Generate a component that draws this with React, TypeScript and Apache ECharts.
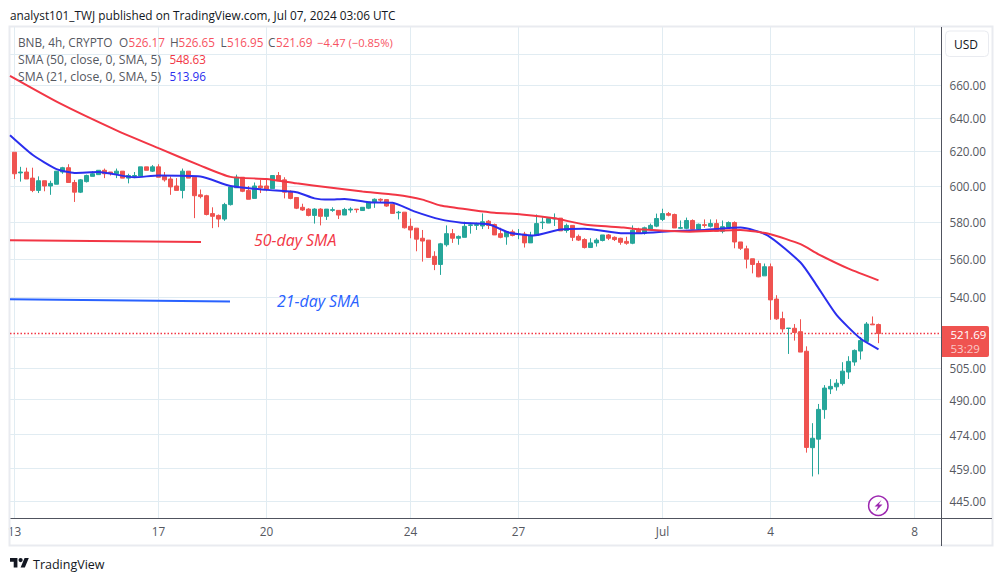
import React, { useEffect, useRef } from "react";
import * as echarts from "echarts";

// 4h candles, index 0 = 13 June 00:00
const opens = [619.5,607.5,608,604.5,597.5,603,600,601,608,610.5,602,596.5,602.5,605.5,606.5,609,608,607,608.5,604.5,605.5,605.7,611,608.5,611,605.5,604,600,597.5,608.5,605,595,594.5,584.5,583.5,581.5,589.5,599,605,597.5,593,600,600,598.5,606,603.5,597,593.5,588,587,583.5,587,583,586.3,586.3,583.7,586.5,587,586.2,587.5,591,592.5,592.3,589.7,585,585.3,577.5,576.5,571,570,561.3,557,567.5,573.5,571,571.5,578,578,577.7,580.3,578.5,573.5,571.8,574.5,573,573.3,568.5,572.5,579.5,579.3,581.5,582,575.2,578,572,570.3,566,568.5,569.8,572.8,571.5,571,569.3,568.3,575.3,573.7,575.8,577.6,581.3,584.5,584,576.4,576.4,580.7,575.9,578.4,577.5,579,574.8,577,579.6,569,565.3,560,557.5,551,555.8,539,529.1,524.2,524.3,522.6,513,468.2,472,485.4,495,496,497.5,503,507.8,513.1,517.8,526.4,526.17];
const closes = [607,608,604,597.5,603,600,601.5,608.5,610.5,602,596.5,603.5,606,607,609,607,607.5,608.5,604.5,606,606,611,609,611,605,603.5,599.5,597.5,608.5,604.5,594.5,594,584,583,581.5,589.5,599.5,605,597,592.5,600,599,598,606,603,596.5,593,587.5,586.5,583.5,587,583,587,586.7,583.7,586.8,587,586.7,588,591,592.5,592,588.7,584.6,585.3,576.7,575.5,570.5,569.5,560.7,557,568,573.5,571,572,577.5,578.3,578.5,580,578,572.8,571.5,574.5,572.5,573.3,568.5,572.5,579,579.8,581.8,582,575,578,571.5,570,566,568.5,570,572.8,571,570.3,568.8,568.3,575.3,574,576.7,578,581.8,584.5,583.6,576.6,576.8,580.7,575.9,578.6,578,579,574.8,577.3,579.6,569,565.6,559.8,557,550.5,555.8,538.6,529,524,524.4,522.2,512.6,468.3,472.4,485.5,495.4,496.2,497.7,503.4,508.1,513.4,518.2,526.4,526,521.69];
const lows = [604,602.5,604,596.5,596,597,595,601,607,602,591,596,602,605.5,606.5,604.5,606,604.5,604.5,601.5,604.5,605.7,609,608,605,602.5,595,597.5,593,604.5,582,593,583.5,576.5,577,580.5,589,599,596.5,592.5,593,596,597,598.5,603,593,592.5,587,586,583,579,578,581,585.5,581.5,583.7,585,585,586,587,587.7,590.5,588.3,584.6,581.3,576.3,571,564,558.5,560.7,554,551.5,566.5,568.5,567.5,571.5,573.5,575.5,576,576,572.8,571,567.5,572,570.5,566,568.5,572.5,576,579.3,577.7,575,574,569.5,569.5,565.5,566,566.5,569.3,570,569.5,567.5,567.5,567.8,574,573,575.3,577,580.4,583,576.6,576,575.9,575.9,574.4,576.8,576.8,574.8,573.7,577,565.6,564.7,554.9,552.3,550.3,551,528.5,528.5,522.2,511.7,518.2,512.6,466,455.6,456.5,481.2,492.6,494.2,496.6,499.7,506,509,517.8,526,516.95];
const highs = [619.5,611,610.5,610.5,605.5,603,603,608.5,611,612.5,603.5,604,606.5,608.5,609,610,608,610,608.5,607,608,611,611,612,612.5,608,605.5,604.5,610,608.5,605,598,595,588,584,590.5,599.5,606.5,605,600,602,603.5,604,606,608,605,597.5,593.5,590,587.5,587.5,587.5,587,588,586.3,587.7,588,587,588,591,593,593,592.3,589.7,586,585.3,581.8,576.5,575.5,570,564,568.5,578,576,572.5,580,579.5,579.5,584.6,581,579,576.7,574.5,575.7,576,574.5,574.5,584,582.5,582.5,584.6,582,579,578,573,571,571,571,572.8,573.3,572,571.3,571.8,578,576.7,577.3,579,584.5,587.2,585.4,584.5,580.7,582.3,581.3,579,581.3,581.3,581.3,580.7,580.2,580.2,569,567,560,559,557.5,557.5,541,532.6,524.4,526.4,528.8,515.4,479.2,488,496.8,499.6,499.6,507.7,510.6,513.9,520,527.4,530.2,526.65];

// SMA readings: candle position, value
const sma21Pos = [-0.75,3,7,10,14,20,24,31,36,42,47,50,52.5,55,59,63,66.5,71,74.5,79,82.5,86.5,91,95,101.5,104,110,115,121,125.5,131,133.5,137,141,144];
const sma21Val = [629.5,618,609.7,607.5,608,605,606,605.4,600,597.8,596.5,593,592.3,592.7,590.8,590.5,585.9,581.3,579.5,578.6,574,572.5,575.8,576.2,573.7,573.7,575,575.5,576.8,572.6,558,547,531,519.2,513.96];
const sma50Pos = [-0.75,7.5,17,24,31,36,42,47,52.5,58,63.5,68,71,76.5,80,84.5,90,95,101.5,104,112.5,121,126,131,134,139,144];
const sma50Val = [666,649,632.5,621.9,611.7,605.2,604,601.5,599.2,596.9,595,592.3,589,586.4,585,584,581.9,578.5,576.8,575.9,574.6,575.5,573.2,567.8,562.4,554.8,548.63];

const dateIdx = [0,24,42,66,84,108,126,150];
const dateLabels = ["13","17","20","24","27","Jul","4","8"];
const priceTicks = [445,459,474,490,505,540,560,580,600,620,640,660];
const gridPrices = [445,459,474,490,505,520,540,560,580,600,620,640,660,680];
const lastPrice = 521.69;
const xMin = -0.75;
const xMax = 154.5;

const FONT = "'Open Sans', sans-serif";
const UP = "#26a69a";
const DOWN = "#ef5350";
const RED = "#f23645";
const BLUE = "#2a2eee";
const GREY = "#55585f";
const VAL = "#f7525f";
const AXIS = "#50535e";

const legendTexts: [string, number, number, string, number][] = [
  ["BNB, 4h, CRYPTO", 18, 42, GREY, 11.8],
  ["O", 119, 42, GREY, 11.8], ["526.17", 128.5, 42, VAL, 11.7],
  ["H", 170, 42, GREY, 11.8], ["526.65", 178.5, 42, VAL, 11.7],
  ["L", 220.5, 42, GREY, 11.8], ["516.95", 227, 42, VAL, 11.7],
  ["C", 268, 42, GREY, 11.8], ["521.69", 276, 42, VAL, 11.7],
  ["−4.47 (−0.85%)", 317, 42, VAL, 11.2],
  ["SMA (50, close, 0, SMA, 5)", 18, 59, GREY, 12.2], ["548.63", 169.5, 59, RED, 11.7],
  ["SMA (21, close, 0, SMA, 5)", 18, 76, GREY, 12.2], ["513.96", 169.5, 76, BLUE, 11.7],
];

echarts.graphic.registerShape(
  "tvlogo",
  echarts.graphic.extendPath("M14 22H7V11H0V4h14v18zM28 22h-8l7.5-18h8L28 22zM24 8a4 4 0 1 1-8 0 4 4 0 0 1 8 0z", {})
);

const txt = (text: string, x: number, y: number, fill: string, size = 12, extra: any = {}) => ({
  type: "text", x, y, silent: true, z: 20,
  style: { text, fill, font: `${extra.italic ? "italic " : ""}${size}px ${FONT}`, textVerticalAlign: "middle", textBaseline: "middle", opacity: extra.opacity ?? 1 },
});

export default function App() {
  const ref = useRef<HTMLDivElement>(null);
  useEffect(() => {
    const chart = echarts.init(ref.current!, null, { renderer: "svg" });
    const candles = opens.map((o, i) => [i, o, closes[i], lows[i], highs[i]]);
    chart.setOption({
      animation: false,
      backgroundColor: "#ffffff",
      grid: { left: 10, right: 61.5, top: 27, bottom: 63, containLabel: false },
      xAxis: {
        type: "value", min: xMin, max: xMax,
        axisLine: { show: true, lineStyle: { color: AXIS, width: 1 } },
        axisTick: { show: false, customValues: dateIdx },
        axisLabel: {
          customValues: dateIdx, color: GREY, fontFamily: FONT, fontSize: 11.8, margin: 7,
          formatter: (v: number) => dateLabels[dateIdx.indexOf(Math.round(v))] ?? "",
        },
        splitLine: { show: true, lineStyle: { color: "#e1ecf2", width: 1 } },
      },
      yAxis: {
        type: "log", logBase: Math.E, min: 438, max: 697.6, position: "right",
        axisLine: { show: false },
        axisTick: { show: false, customValues: gridPrices },
        axisLabel: {
          customValues: priceTicks, color: GREY, fontFamily: FONT, fontSize: 11.7, margin: 8,
          formatter: (v: number) => Math.round(v).toFixed(2),
        },
        splitLine: { show: true, lineStyle: { color: "#e1ecf2", width: 1 } },
      },
      series: [
        {
          type: "line", data: [[xMin, lastPrice], [xMax, lastPrice]], showSymbol: false, silent: true, z: 2,
          lineStyle: { color: "#f23645", type: [1.5, 2], width: 1.4, opacity: 1 },
        },
        {
          type: "candlestick", data: candles, encode: { x: 0, y: [1, 2, 3, 4] }, barWidth: 5, z: 3,
          itemStyle: { color: UP, color0: DOWN, borderColor: UP, borderColor0: DOWN, borderWidth: 1 },
        },
        { type: "line", data: sma50Pos.map((p, i) => [p, sma50Val[i]]), showSymbol: false, smooth: 0.2, z: 5, lineStyle: { color: RED, width: 2 } },
        { type: "line", data: sma21Pos.map((p, i) => [p, sma21Val[i]]), showSymbol: false, smooth: 0.2, z: 4, lineStyle: { color: BLUE, width: 2 } },
      ],
      graphic: [
        { type: "rect", silent: true, z: 1, shape: { x: 9.5, y: 26.5, width: 983, height: 519 }, style: { fill: "none", stroke: "#e9ebf0", lineWidth: 2 } },
        { type: "line", silent: true, z: 10, shape: { x1: 941.5, y1: 27, x2: 941.5, y2: 546 }, style: { stroke: AXIS, lineWidth: 1 } },
        { type: "line", silent: true, z: 10, shape: { x1: 941.5, y1: 518.5, x2: 992, y2: 518.5 }, style: { stroke: AXIS, lineWidth: 1 } },
        { type: "line", silent: true, z: 10, shape: { x1: 10, y1: 240.3, x2: 201, y2: 242 }, style: { stroke: RED, lineWidth: 2 } },
        { type: "line", silent: true, z: 10, shape: { x1: 10, y1: 299.3, x2: 230, y2: 301.5 }, style: { stroke: "#2962ff", lineWidth: 2 } },
        txt("50-day SMA", 254, 240, RED, 15.9, { italic: true }),
        txt("21-day SMA", 277, 301, "#2962ff", 15.9, { italic: true }),
        { type: "rect", silent: true, z: 20, shape: { x: 945.5, y: 31, width: 43, height: 25.5, r: 4 }, style: { fill: "#fff", stroke: "#e9ebf0", lineWidth: 1 } },
        txt("USD", 954, 44, "#131722", 12),
        { type: "rect", silent: true, z: 20, shape: { x: 942, y: 326, width: 47, height: 31, r: [0, 2, 2, 0] }, style: { fill: DOWN } },
        txt("521.69", 950.5, 334, "#ffffff", 11.5),
        txt("53:29", 950.5, 348.7, "#ffffff", 11.5, { opacity: 0.7 }),
        { type: "circle", silent: true, z: 20, shape: { cx: 878.3, cy: 505.7, r: 9.7 }, style: { fill: "#fff", stroke: "#9c27b0", lineWidth: 1.5 } },
        { type: "polygon", silent: true, z: 21, shape: { points: [[881.5, 500], [874.5, 506.5], [878, 506.5], [875.5, 511.5], [882.5, 504.5], [878.7, 504.5]] }, style: { fill: "#9c27b0" } },
        { type: "tvlogo", silent: true, z: 20, x: 10, y: 555.8, scaleX: 0.53, scaleY: 0.53, style: { fill: "#131722" } },
        txt("TradingView", 33, 564, "#131722", 12.5),
        txt("analyst101_TWJ published on TradingView.com, Jul 07, 2024 03:06 UTC", 10, 15, "#131722", 11.82),
        ...legendTexts.map(([t, x, y, c, s]) => txt(t, x, y, c, s)),
      ],
    });
    return () => chart.dispose();
  }, []);
  return <div ref={ref} style={{ position: "absolute", left: 0, top: 0, width: 1003, height: 581 }} />;
}
